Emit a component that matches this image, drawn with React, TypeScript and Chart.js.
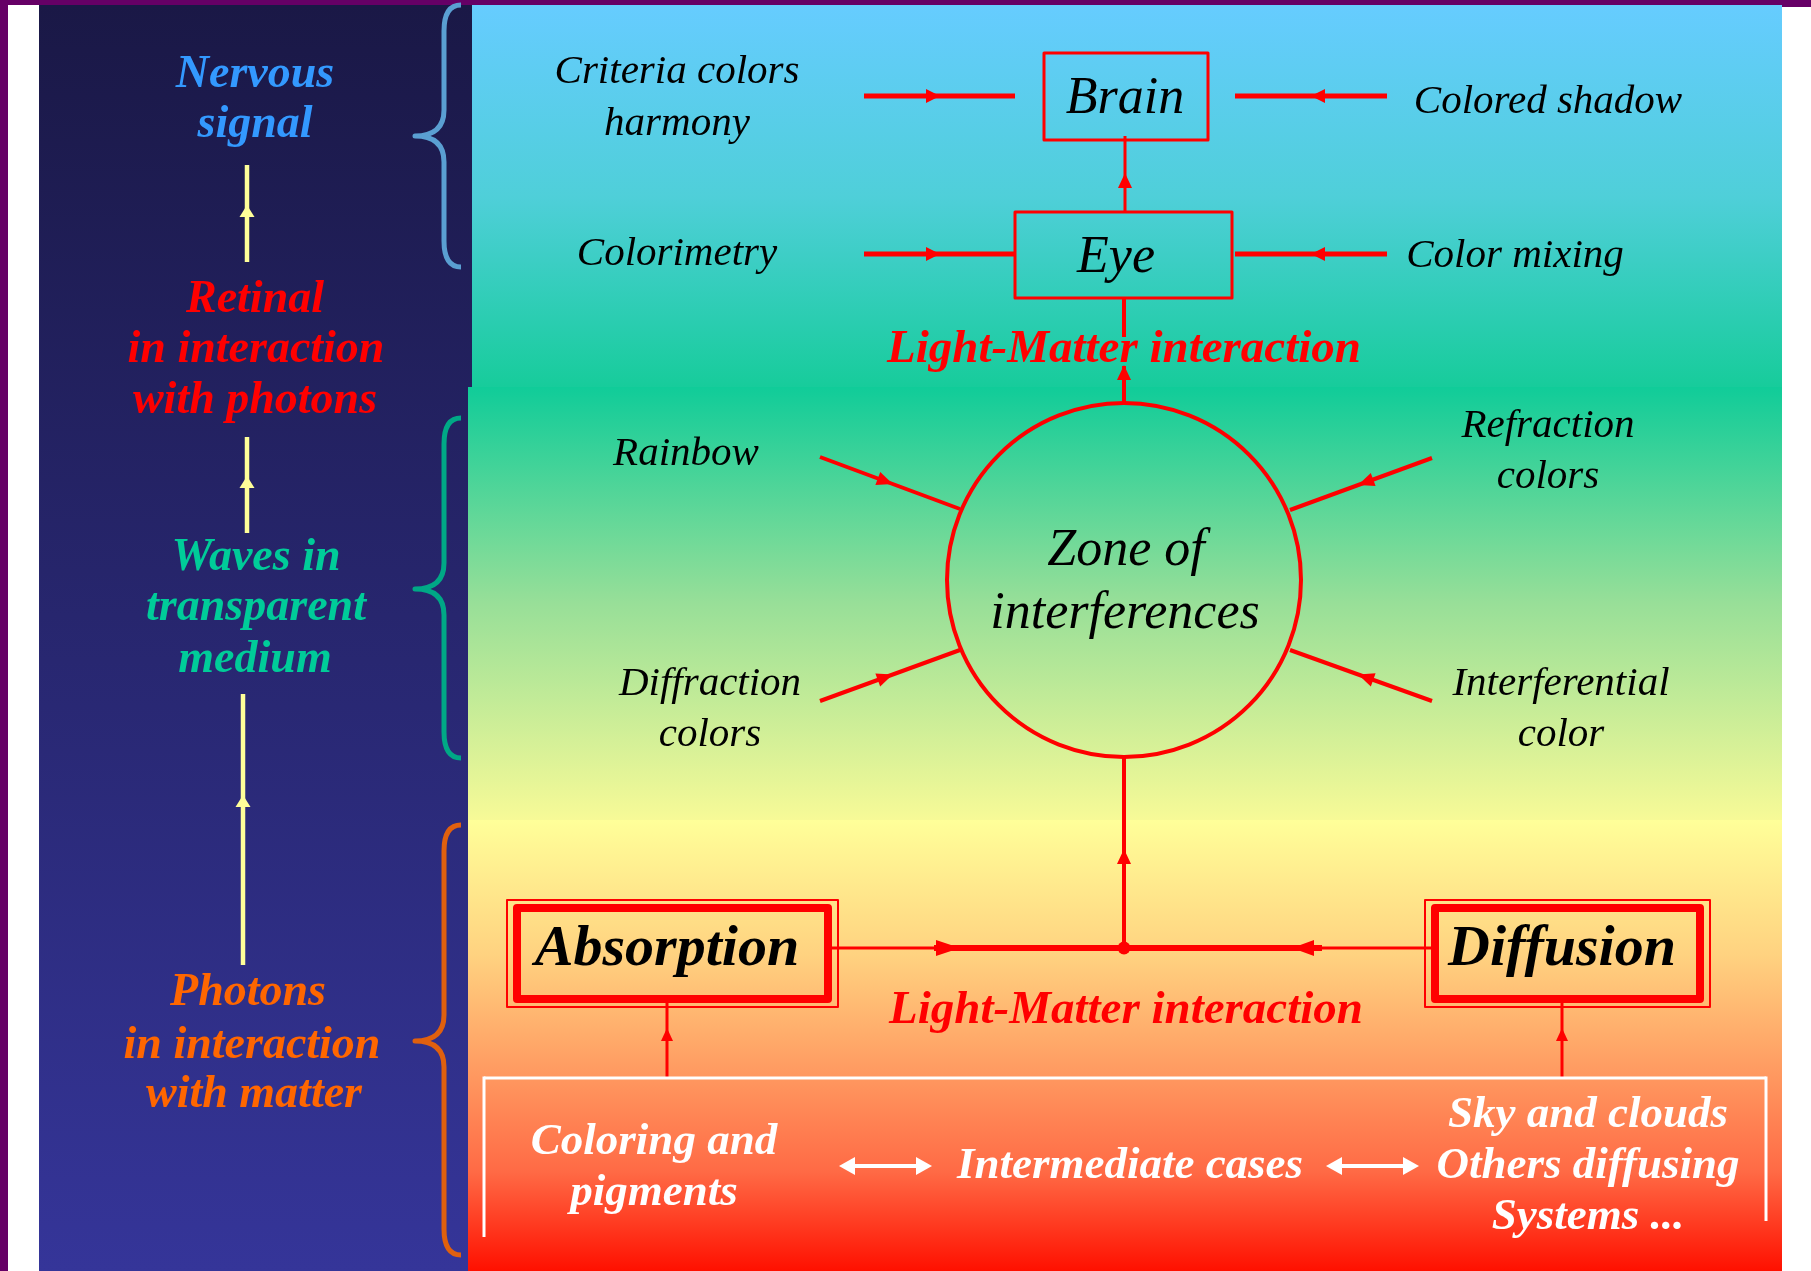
import React, { useEffect, useRef } from "react";
import { Chart, registerables } from "chart.js";
Chart.register(...registerables);

const W = 1811;
const H = 1271;

// ---- left column ----
const leftLabels = [
  ["Nervous", "signal"],
  ["Retinal", "in interaction", "with photons"],
  ["Waves in", "transparent", "medium"],
  ["Photons", "in interaction", "with matter"],
];
const leftColors = ["#3399ff", "#ff0000", "#00cc99", "#ff6600"];
const leftBaselines = [
  [87, 137],
  [312, 362, 413],
  [570, 620, 672],
  [1005, 1058, 1107],
];
const leftCenterX = [
  [255, 255],
  [255, 256, 255],
  [256, 256, 255],
  [248, 252, 254],
];
// x, yFrom, yTo, arrow tip y
const leftArrows = [
  [247, 262, 165, 205],
  [247, 533, 437, 476],
  [243, 965, 694, 795],
];
const braceColors = ["#5a9fd2", "#00a886", "#e0600e"];
const braceSpans = [
  [5, 136, 267],
  [418, 589, 758],
  [825, 1041, 1255],
];

// ---- top part ----
const sideLabels = ["Criteria colors\nharmony", "Colorimetry", "Colored shadow", "Color mixing"];
const sideLabelPos = [
  [677, 83],
  [677, 265],
  [1548, 113],
  [1515, 267],
];
const sideArrows = [
  [864, 96, 1015, 96, 940],
  [864, 254, 1015, 254, 940],
  [1387, 96, 1235, 96, 1311],
  [1387, 254, 1235, 254, 1311],
];
const nodeLabels = ["Brain", "Eye"];
const nodeBoxes = [
  [1044, 53, 1208, 140],
  [1015, 212, 1232, 298],
];
const nodeTextPos = [
  [1125, 113],
  [1116, 272],
];
const interactionLabel = "Light-Matter interaction";
const interactionPos = [
  [1124, 362],
  [1126, 1023],
];

// ---- zone of interferences ----
const zoneLabels = ["Zone of", "interferences"];
const zoneTextPos = [
  [1126, 565],
  [1125, 628],
];
const zoneCircle = [1124, 580, 177];
const radialLabels = ["Rainbow", "Refraction\ncolors", "Diffraction\ncolors", "Interferential\ncolor"];
const radialLabelPos = [
  [686, 465],
  [1548, 437],
  [710, 695],
  [1561, 695],
];
const radialLines = [
  [820, 457, 960, 509],
  [1432, 458, 1290, 510],
  [820, 701, 960, 650],
  [1432, 701, 1290, 650],
];
const radialArrowFraction = 0.52;

// ---- bottom part ----
const processLabels = ["Absorption", "Diffusion"];
const processBoxes = [
  [507, 900, 838, 1007],
  [1425, 900, 1710, 1007],
];
const processTextPos = [
  [667, 965],
  [1562, 965],
];
const junction = [1124, 948];
const sourceLabels = ["Coloring and\npigments", "Intermediate cases", "Sky and clouds\nOthers diffusing\nSystems ..."];
const sourceLabelPos = [
  [654, 1154],
  [1130, 1178],
  [1588, 1127],
];
const sourceArrows = [
  [839, 932, 1166],
  [1326, 1419, 1166],
];
const sourceBox = [484, 1078, 1766, 1237, 1221];
const feedX = [667, 1562];

const SERIF = "'Liberation Serif', 'Times New Roman', serif";

const diagramPlugin = {
  id: "diagram",
  beforeDraw(chart: any) {
    const ctx: CanvasRenderingContext2D = chart.ctx;
    const X = (v: number) => chart.scales.x.getPixelForValue(v);
    const Y = (v: number) => chart.scales.y.getPixelForValue(v);
    const rect = (x1: number, y1: number, x2: number, y2: number, fill: any) => {
      ctx.fillStyle = fill;
      ctx.fillRect(X(x1), Y(y1), X(x2) - X(x1), Y(y2) - Y(y1));
    };
    const vgrad = (y1: number, y2: number, stops: [number, string][]) => {
      const g = ctx.createLinearGradient(0, Y(y1), 0, Y(y2));
      stops.forEach(([o, c]) => g.addColorStop(o, c));
      return g;
    };
    ctx.save();
    rect(0, 0, W, H, "#ffffff");
    rect(0, 0, W, 5, "#660066");
    rect(1782, 0, W, 7, "#660066");
    rect(0, 0, 8, H, "#660066");
    rect(39, 5, 472, H, vgrad(5, H, [[0, "#1a1846"], [1, "#353599"]]));
    rect(472, 5, 1782, 387, vgrad(5, 387, [[0, "#66ccff"], [0.5, "#4fcfd9"], [1, "#17cc9b"]]));
    rect(468, 387, 1782, 820, vgrad(387, 820, [[0, "#10cc99"], [0.5, "#98df98"], [1, "#f7fa97"]]));
    rect(468, 820, 1782, H, vgrad(820, H, [[0, "#ffff99"], [0.3, "#ffd280"], [0.55, "#ff9c62"], [0.78, "#ff6a45"], [1, "#ff1000"]]));
    ctx.restore();
  },
  afterDraw(chart: any) {
    const ctx: CanvasRenderingContext2D = chart.ctx;
    const X = (v: number) => chart.scales.x.getPixelForValue(v);
    const Y = (v: number) => chart.scales.y.getPixelForValue(v);
    ctx.save();
    ctx.lineCap = "butt";

    const line = (x1: number, y1: number, x2: number, y2: number, lw: number, color: string) => {
      ctx.strokeStyle = color;
      ctx.lineWidth = lw;
      ctx.beginPath();
      ctx.moveTo(X(x1), Y(y1));
      ctx.lineTo(X(x2), Y(y2));
      ctx.stroke();
    };
    const head = (x: number, y: number, ang: number, len: number, hw: number, color: string) => {
      const tx = X(x), ty = Y(y);
      const dx = Math.cos(ang), dy = Math.sin(ang);
      const bx = tx - dx * len, by = ty - dy * len;
      ctx.fillStyle = color;
      ctx.beginPath();
      ctx.moveTo(tx, ty);
      ctx.lineTo(bx - dy * hw, by + dx * hw);
      ctx.lineTo(bx + dy * hw, by - dx * hw);
      ctx.closePath();
      ctx.fill();
    };
    const text = (s: string, x: number, y: number, font: string, color: string, lh = 51) => {
      ctx.font = font;
      ctx.fillStyle = color;
      ctx.textAlign = "center";
      ctx.textBaseline = "alphabetic";
      s.split("\n").forEach((t, i) => ctx.fillText(t, X(x), Y(y + i * lh)));
    };
    const box = (x1: number, y1: number, x2: number, y2: number, lw: number, color: string) => {
      ctx.strokeStyle = color;
      ctx.lineWidth = lw;
      ctx.strokeRect(X(x1), Y(y1), X(x2) - X(x1), Y(y2) - Y(y1));
    };

    // ---- braces ----
    braceSpans.forEach(([yt, ym, yb], i) => {
      const xe = 461, xl = 444, xt = 415, r = 26;
      ctx.strokeStyle = braceColors[i];
      ctx.lineWidth = 5;
      ctx.lineJoin = "round";
      ctx.beginPath();
      ctx.moveTo(X(xe), Y(yt));
      ctx.quadraticCurveTo(X(xl), Y(yt), X(xl), Y(yt + r));
      ctx.lineTo(X(xl), Y(ym - r));
      ctx.quadraticCurveTo(X(xl), Y(ym), X(xt), Y(ym));
      ctx.quadraticCurveTo(X(xl), Y(ym), X(xl), Y(ym + r));
      ctx.lineTo(X(xl), Y(yb - r));
      ctx.quadraticCurveTo(X(xl), Y(yb), X(xe), Y(yb));
      ctx.stroke();
    });

    // ---- left column ----
    leftLabels.forEach((lines, i) => {
      lines.forEach((t, j) => text(t, leftCenterX[i][j], leftBaselines[i][j], `italic bold 46px ${SERIF}`, leftColors[i]));
    });
    leftArrows.forEach(([x, y1, y2, tip]) => {
      line(x, y1, x, y2, 4.5, "#ffff99");
      head(x, tip, -Math.PI / 2, 12, 7.5, "#ffff99");
    });

    const RED = "#ff0000";
    // ---- top ----
    sideArrows.forEach(([x1, y1, x2, y2, tip]) => {
      line(x1, y1, x2, y2, 5, RED);
      head(tip, y1, x2 > x1 ? 0 : Math.PI, 14, 7, RED);
    });
    sideLabels.forEach((s, i) => text(s, sideLabelPos[i][0], sideLabelPos[i][1], `italic 41px ${SERIF}`, "#000000", 52));
    nodeBoxes.forEach(([x1, y1, x2, y2], i) => {
      box(x1, y1, x2, y2, 3, RED);
      text(nodeLabels[i], nodeTextPos[i][0], nodeTextPos[i][1], `italic 52px ${SERIF}`, "#000000");
    });
    // brain <- eye
    line(1125, nodeBoxes[0][3] - 4, 1125, nodeBoxes[1][1], 3, RED);
    head(1125, 173, -Math.PI / 2, 15, 7, RED);
    // eye <- zone
    line(1124, nodeBoxes[1][3], 1124, 337, 4, RED);
    line(1124, 366, 1124, zoneCircle[1] - zoneCircle[2], 4, RED);
    head(1124, 365, -Math.PI / 2, 15, 7, RED);

    // ---- zone ----
    ctx.strokeStyle = RED;
    ctx.lineWidth = 4;
    ctx.beginPath();
    ctx.arc(X(zoneCircle[0]), Y(zoneCircle[1]), zoneCircle[2], 0, Math.PI * 2);
    ctx.stroke();
    zoneLabels.forEach((s, i) => text(s, zoneTextPos[i][0], zoneTextPos[i][1], `italic 52px ${SERIF}`, "#000000"));
    radialLines.forEach(([x1, y1, x2, y2], i) => {
      line(x1, y1, x2, y2, 4, RED);
      const f = radialArrowFraction;
      const tx = x1 + (x2 - x1) * f, ty = y1 + (y2 - y1) * f;
      head(tx, ty, Math.atan2(y2 - y1, x2 - x1), 16, 7, RED);
      text(radialLabels[i], radialLabelPos[i][0], radialLabelPos[i][1], `italic 41px ${SERIF}`, "#000000", 51);
    });
    // zone <- junction
    line(1124, zoneCircle[1] + zoneCircle[2], 1124, junction[1], 4, RED);
    head(1124, 849, -Math.PI / 2, 15, 7, RED);

    interactionPos.forEach(([x, y]) => text(interactionLabel, x, y, `italic bold 47px ${SERIF}`, RED));

    // ---- processes ----
    processBoxes.forEach(([x1, y1, x2, y2], i) => {
      box(x1, y1, x2, y2, 2, RED);
      box(x1 + 10, y1 + 8, x2 - 10, y2 - 8, 8, RED);
      text(processLabels[i], processTextPos[i][0], processTextPos[i][1], `italic bold 58px ${SERIF}`, "#000000");
    });
    const jy = junction[1];
    line(processBoxes[0][2] - 10, jy, 934, jy, 3, RED);
    line(934, jy, 1322, jy, 6, RED);
    line(1322, jy, processBoxes[1][0] + 6, jy, 3, RED);
    head(960, jy, 0, 24, 8, RED);
    head(1292, jy, Math.PI, 22, 8, RED);
    ctx.fillStyle = RED;
    ctx.beginPath();
    ctx.arc(X(junction[0]), Y(junction[1]), 6.5, 0, Math.PI * 2);
    ctx.fill();

    feedX.forEach((x) => {
      line(x, sourceBox[1], x, 1002, 3, RED);
      head(x, 1028, -Math.PI / 2, 13, 6, RED);
    });

    // ---- sources ----
    const [bx1, by1, bx2, byl, byr] = sourceBox;
    line(bx1, by1, bx2, by1, 3, "#ffffff");
    line(bx1, by1 - 1.5, bx1, byl, 3, "#ffffff");
    line(bx2, by1 - 1.5, bx2, byr, 3, "#ffffff");
    sourceArrows.forEach(([x1, x2, y]) => {
      line(x1 + 8, y, x2 - 8, y, 4, "#ffffff");
      head(x1, y, Math.PI, 16, 9, "#ffffff");
      head(x2, y, 0, 16, 9, "#ffffff");
    });
    sourceLabels.forEach((s, i) => text(s, sourceLabelPos[i][0], sourceLabelPos[i][1], `italic bold 45px ${SERIF}`, "#ffffff", 51));

    ctx.restore();
  },
};

export default function App() {
  const ref = useRef<HTMLCanvasElement | null>(null);
  useEffect(() => {
    document.body.style.margin = "0";
    if (!ref.current) return;
    const chart = new Chart(ref.current, {
      type: "scatter",
      data: {
        datasets: [
          {
            label: "anchors",
            data: radialLabelPos.map(([x, y]) => ({ x, y })),
            pointRadius: 0,
            showLine: false,
          },
        ],
      },
      options: {
        animation: false,
        responsive: false,
        devicePixelRatio: 1,
        layout: { padding: 0 },
        events: [],
        plugins: { legend: { display: false }, tooltip: { enabled: false } },
        scales: {
          x: { type: "linear", min: 0, max: W, display: false },
          y: { type: "linear", min: 0, max: H, reverse: true, display: false },
        },
      },
      plugins: [diagramPlugin],
    });
    return () => chart.destroy();
  }, []);
  return (
    <div style={{ width: W, height: H, overflow: "hidden" }}>
      <canvas ref={ref} width={W} height={H} style={{ display: "block" }} />
    </div>
  );
}
